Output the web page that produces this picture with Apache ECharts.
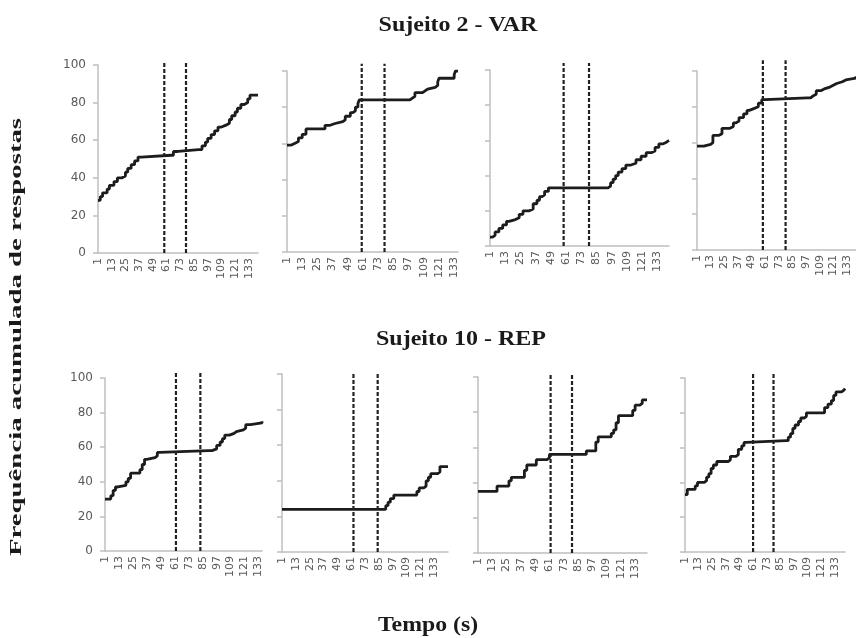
<!DOCTYPE html>
<html>
<head>
<meta charset="utf-8">
<script src="https://cdn.jsdelivr.net/npm/echarts@6/dist/echarts.min.js"></script>
<style>
  html, body { margin: 0; padding: 0; background: #fff; }
  #main { width: 856px; height: 638px; }
</style>
</head>
<body>
<div id="main"></div>
<script>
// Frequência acumulada - Sujeito 2 (VAR) em cima, Sujeito 10 (REP) embaixo

var xTicks = ['1', '13', '25', '37', '49', '61', '73', '85', '97', '109', '121', '133'];
var yTicks = [0, 20, 40, 60, 80, 100];

// segundos de cada painel
var lengths = [141, 136, 142, 141, 136, 145, 143, 142];

// degraus [segundo, freq. acumulada]
var var1 = [[1, 28], [3, 30], [5, 32], [9, 34], [11, 36], [15, 38], [18, 40], [22, 41], [25, 43], [27, 45], [30, 47], [33, 49], [36, 51], [39, 52], [65, 52], [67, 54], [71, 55], [89, 55], [92, 57], [95, 59], [97, 61], [100, 63], [103, 65], [106, 67], [109, 68], [113, 69], [116, 71], [118, 73], [121, 75], [123, 77], [126, 79], [129, 80], [132, 82], [134, 84], [141, 84]];
var var2 = [[1, 59], [4, 60], [7, 61], [10, 63], [13, 65], [16, 68], [29, 68], [31, 70], [35, 71], [39, 72], [45, 73], [47, 75], [51, 77], [53, 78], [55, 80], [57, 82], [58, 84], [96, 84], [98, 85], [100, 86], [102, 88], [108, 89], [110, 90], [112, 91], [118, 92], [120, 94], [121, 96], [131, 96], [133, 98], [134, 100], [136, 100]];
var var3 = [[1, 5], [3, 6], [5, 8], [8, 10], [11, 12], [14, 14], [16, 15], [21, 16], [24, 18], [27, 20], [32, 21], [35, 24], [38, 26], [40, 28], [42, 29], [44, 31], [47, 33], [91, 33], [94, 34], [96, 36], [98, 38], [100, 40], [102, 42], [105, 44], [108, 46], [112, 47], [116, 49], [120, 51], [124, 53], [128, 54], [131, 56], [134, 58], [137, 59], [140, 60], [142, 60]];
var var4 = [[1, 58], [7, 59], [13, 60], [15, 64], [20, 65], [23, 68], [30, 69], [33, 71], [35, 72], [38, 74], [42, 76], [45, 78], [47, 79], [51, 80], [55, 82], [58, 84], [61, 85], [98, 85], [101, 86], [103, 87], [106, 89], [110, 90], [113, 91], [118, 92], [121, 93], [124, 94], [129, 95], [132, 96], [141, 97]];
var rep1 = [[1, 30], [6, 32], [8, 35], [10, 37], [12, 38], [19, 40], [21, 42], [23, 45], [31, 47], [33, 50], [35, 53], [37, 54], [44, 55], [46, 57], [48, 58], [90, 58], [93, 59], [97, 61], [100, 63], [102, 65], [104, 67], [108, 68], [112, 69], [114, 70], [120, 71], [122, 73], [126, 74], [136, 75]];
var rep2 = [[1, 24], [89, 24], [91, 26], [93, 28], [95, 30], [98, 32], [116, 32], [118, 34], [120, 36], [124, 37], [126, 40], [128, 42], [130, 44], [136, 45], [138, 48], [145, 48]];
var rep3 = [[1, 35], [17, 38], [27, 41], [29, 43], [40, 47], [42, 50], [50, 53], [59, 54], [61, 56], [92, 58], [100, 63], [102, 66], [113, 68], [115, 70], [117, 74], [119, 78], [131, 81], [133, 84], [137, 85], [139, 87], [143, 87]];
var rep4 = [[1, 33], [3, 36], [10, 38], [12, 40], [18, 41], [20, 43], [22, 45], [24, 48], [26, 50], [29, 52], [39, 53], [41, 55], [46, 56], [48, 59], [51, 61], [53, 63], [55, 64], [90, 64], [92, 66], [94, 68], [96, 71], [98, 73], [101, 75], [103, 77], [106, 78], [108, 80], [122, 80], [124, 83], [127, 85], [130, 87], [132, 90], [134, 92], [139, 93], [141, 94], [142, 94]];

// linhas tracejadas (segundos) e até onde sobem
var dashes = [[59, 78], [60, 78], [59, 79], [59, 79], [62, 83], [63, 84], [62, 80], [61, 79]];
var dashTop = [101, 104, 104, 106, 103, 101, 102, 103];

var panels = [var1, var2, var3, var4, rep1, rep2, rep3, rep4];

// left, top, width, height de cada painel
var boxes = [
  [98, 65, 160, 188],
  [287, 71, 171, 181],
  [490, 70, 179, 176],
  [697, 71, 167, 179],
  [105, 378, 157, 173],
  [282, 374, 166, 178],
  [478, 377, 169, 176],
  [685, 378, 160, 174]
];

function cats(n) {
  var a = [];
  for (var i = 1; i <= n; i++) a.push(String(i));
  return a;
}

var grid = [], xAxis = [], yAxis = [], series = [];
var axisGray = '#bfbfbf';
var labelGray = '#595959';

panels.forEach(function (steps, i) {
  var b = boxes[i];
  grid.push({ left: b[0], top: b[1], width: b[2], height: b[3], containLabel: false });
  xAxis.push({
    gridIndex: i,
    type: 'category',
    boundaryGap: false,
    data: cats(lengths[i]),
    axisLine: { lineStyle: { color: axisGray, width: 1.5 } },
    axisTick: { show: false },
    splitLine: { show: false },
    axisLabel: {
      rotate: 90,
      margin: 5,
      fontSize: 11,
      fontFamily: 'DejaVu Sans',
      color: labelGray,
      hideOverlap: false,
      interval: function (idx, val) {
        return xTicks.indexOf(val) >= 0;
      }
    }
  });
  yAxis.push({
    gridIndex: i,
    type: 'value',
    min: yTicks[0],
    max: yTicks[yTicks.length - 1],
    interval: 20,
    splitLine: { show: false },
    axisLine: { show: true, lineStyle: { color: axisGray, width: 1.5 } },
    axisTick: { show: true, length: 5, lineStyle: { color: axisGray, width: 1.5 } },
    axisLabel: {
      show: i === 0 || i === 4,
      margin: 12,
      fontSize: 12,
      fontFamily: 'DejaVu Sans',
      color: labelGray
    }
  });
  series.push({
    type: 'line',
    xAxisIndex: i,
    yAxisIndex: i,
    step: 'end',
    symbol: 'none',
    data: steps.map(function (p) { return [String(p[0]), p[1]]; }),
    lineStyle: { color: '#1c1c1c', width: 2.8 },
    z: 3
  });
  dashes[i].forEach(function (x) {
    series.push({
      type: 'line',
      xAxisIndex: i,
      yAxisIndex: i,
      symbol: 'none',
      clip: false,
      data: [[String(x), 0], [String(x), dashTop[i]]],
      lineStyle: { color: '#222', width: 2.2, type: [4, 2] },
      z: 4
    });
  });
});

var titleFont = 'bold 20px "Liberation Serif", "DejaVu Serif", serif';

var mychart = echarts.init(document.getElementById('main'));
mychart.setOption({
  animation: false,
  backgroundColor: '#fff',
  grid: grid,
  xAxis: xAxis,
  yAxis: yAxis,
  series: series,
  graphic: [
    {
      type: 'text', x: 458, y: 26, scaleX: 1.2,
      style: { text: 'Sujeito 2 - VAR', font: titleFont, fill: '#1a1a1a', align: 'center', verticalAlign: 'middle' }
    },
    {
      type: 'text', x: 461, y: 340, scaleX: 1.2,
      style: { text: 'Sujeito 10 - REP', font: titleFont, fill: '#1a1a1a', align: 'center', verticalAlign: 'middle' }
    },
    {
      type: 'text', x: 428, y: 625, scaleX: 1.08,
      style: { text: 'Tempo (s)', font: 'bold 22px "Liberation Serif", "DejaVu Serif", serif', fill: '#1a1a1a', align: 'center', verticalAlign: 'middle' }
    },
    {
      type: 'text', x: 17, y: 337, rotation: Math.PI / 2, scaleX: 1.8,
      style: { text: 'Frequência acumulada de respostas', font: 'bold 16px "Liberation Serif", "DejaVu Serif", serif', fill: '#1a1a1a', align: 'center', verticalAlign: 'middle' }
    }
  ]
});
</script>
</body>
</html>
